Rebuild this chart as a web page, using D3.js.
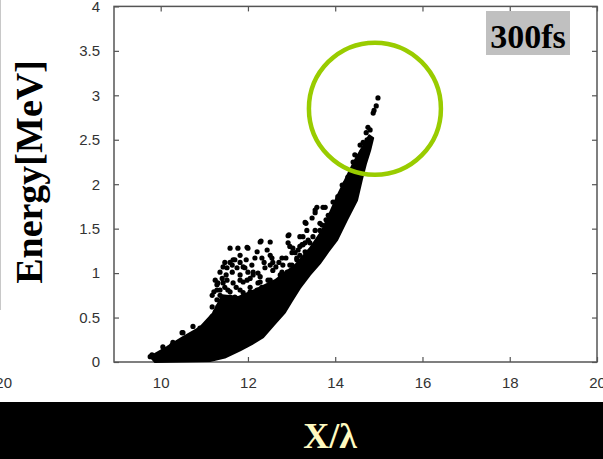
<!DOCTYPE html>
<html><head><meta charset="utf-8">
<script src="https://cdn.jsdelivr.net/npm/d3@7"></script>
<style>html,body{margin:0;padding:0;background:#fff;}svg{display:block;}</style>
</head><body>
<svg id="c" width="603" height="459"></svg>
<script>
// ---- data ----
const xTicks = [10, 12, 14, 16, 18, 20];
const yTicks = [0, 0.5, 1, 1.5, 2, 2.5, 3, 3.5, 4];
const yTickLabels = ["0", "0.5", "1", "1.5", "2", "2.5", "3", "3.5", "4"];
// dense core of particles: outline of the solid black band (x/λ, MeV)
const coreX = [9.87, 11.13, 11.47, 11.82, 12.09, 12.35, 12.60, 12.85, 13.01, 13.19, 13.42, 13.65, 13.84, 14.04, 14.27, 14.50, 14.61, 14.71, 14.80, 14.87,
               14.78, 14.45, 14.23, 14.04, 13.88, 13.70, 13.42, 13.08, 12.62, 12.16, 11.77, 11.41, 11.20, 10.90, 10.51, 10.15, 9.76];
const coreE = [0.00, 0.01, 0.05, 0.13, 0.20, 0.28, 0.42, 0.56, 0.69, 0.83, 0.98, 1.11, 1.24, 1.37, 1.60, 1.82, 2.05, 2.24, 2.38, 2.52,
               2.55, 2.27, 2.05, 1.86, 1.68, 1.48, 1.28, 1.09, 0.92, 0.81, 0.73, 0.75, 0.55, 0.39, 0.28, 0.17, 0.06];
// individual particles outside / at the edge of the core
const ptX = [14.98, 14.94, 14.89, 14.87, 14.75, 14.80, 14.71, 14.73, 14.64, 14.57, 14.61, 14.45, 14.52, 14.41, 14.52, 14.39, 14.29, 14.23, 14.16, 14.18, 14.06,
  13.54, 13.72, 13.95, 13.31, 13.35, 13.65, 13.26, 13.49,
  13.70, 12.92, 13.19, 13.65, 12.28, 12.51, 12.92, 13.24, 13.42, 11.98, 12.21, 13.01, 13.31, 12.51, 12.57, 12.80, 13.12, 12.09, 11.93, 12.23, 12.57, 12.78,
  12.28, 12.46, 12.67, 12.05, 12.39, 11.82, 12.05, 12.28, 11.98,
  11.59, 11.77, 12.00, 12.30, 12.44, 12.55, 12.64, 12.94, 13.33, 13.12, 13.31, 11.47, 11.59, 11.70, 11.43, 11.75, 12.12, 12.28, 11.41, 11.52, 11.66, 11.89,
  12.51, 12.69, 11.36, 11.59, 11.89, 12.21, 12.44, 11.29, 11.52, 11.82, 12.09, 11.18,
  11.66, 11.52, 11.89, 12.12, 13.58, 13.77, 13.54, 13.26, 13.08, 12.96, 12.74, 11.29, 11.98, 12.51, 11.82, 11.59, 10.74, 10.90,
  9.76, 10.28, 10.26, 10.51, 11.18, 11.25, 11.36, 11.31, 11.43, 10.49, 10.05, 9.80,
  11.82, 12.32, 12.78, 12.96, 13.15, 13.54, 13.47, 13.84, 14.04, 11.64, 12.00, 12.39, 12.90, 11.47, 11.73, 12.05, 12.32, 12.55,
  11.41, 11.64, 11.93, 11.70, 11.31, 11.18, 12.85, 13.01, 13.19, 13.38, 13.79,
  11.25, 11.36, 11.50, 11.64, 11.82, 11.96, 12.16, 12.37, 12.51, 12.71, 12.87, 13.03, 13.19, 11.82, 12.05, 12.23, 11.54, 11.29, 11.22];
const ptE = [2.97, 2.88, 2.83, 2.80, 2.64, 2.61, 2.58, 2.50, 2.47, 2.44, 2.36, 2.33, 2.31, 2.25, 2.19, 2.16, 2.08, 2.01, 1.99, 1.90, 1.86,
  1.71, 1.74, 1.80, 1.57, 1.48, 1.56, 1.41, 1.41,
  1.54, 1.42, 1.41, 1.48, 1.35, 1.35, 1.34, 1.32, 1.34, 1.29, 1.24, 1.23, 1.24, 1.20, 1.12, 1.09, 1.17, 1.09, 1.06, 1.00, 1.03, 1.01,
  0.90, 0.92, 0.89, 0.84, 0.81, 0.92, 0.72, 0.70, 0.58,
  1.28, 1.28, 1.28, 1.36, 1.26, 1.17, 1.07, 1.43, 1.56, 1.15, 1.34, 1.12, 1.12, 1.15, 1.07, 1.06, 1.01, 0.96, 0.94, 0.92, 0.89, 0.90,
  0.92, 0.84, 0.81, 0.79, 0.78, 0.81, 0.73, 0.70, 0.70, 0.66, 0.70, 0.62,
  1.15, 1.06, 1.07, 0.98, 1.74, 1.74, 1.68, 1.32, 1.23, 1.09, 0.98, 0.81, 0.92, 0.89, 0.81, 0.73, 0.40, 0.38,
  0.06, 0.22, 0.19, 0.33, 0.51, 0.56, 0.75, 0.62, 0.89, 0.33, 0.17, 0.08,
  1.20, 1.17, 1.17, 1.30, 1.26, 1.48, 1.62, 1.65, 1.71, 1.01, 1.01, 1.06, 1.01, 0.84, 0.84, 0.79, 0.84, 0.79,
  0.62, 0.62, 0.64, 0.73, 0.89, 0.75, 0.92, 1.09, 1.20, 1.37, 1.60,
  0.92, 1.01, 0.98, 1.09, 1.12, 1.15, 1.17, 1.12, 1.09, 1.12, 1.17, 1.28, 1.30, 0.98, 0.94, 0.89, 0.81, 0.87, 0.79];
const xLabel = "X/λ";
const yLabel = "Energy[MeV]";
const timeLabel = "300fs";

// ---- drawing ----
const svg = d3.select("#c");
const L = 114, R = 597, T = 6.4, B = 362;
const x = d3.scaleLinear().domain([8.93, 20]).range([L, R]);
const y = d3.scaleLinear().domain([0, 4]).range([B, T]);

// remnant of neighbouring panel on the left edge
svg.append("line").attr("x1", 0.5).attr("x2", 0.5).attr("y1", 0).attr("y2", 310)
  .attr("stroke", "#c8c8c8").attr("stroke-width", 1);
svg.append("text").attr("x", 12).attr("y", 388).attr("text-anchor", "end")
  .attr("font-family", "Liberation Sans, Arial, sans-serif").attr("font-size", 15).attr("fill", "#333").text("20");

const axFont = "Liberation Sans, Arial, sans-serif";
function styleAxis(g) {
  g.select(".domain").remove();
  g.selectAll(".tick line").attr("stroke", "#555").attr("stroke-width", 1.2);
  g.selectAll(".tick text").attr("font-family", axFont).attr("font-size", 15).attr("fill", "#333");
}
svg.append("g").attr("transform", `translate(0,${B})`)
  .call(d3.axisBottom(x).tickValues(xTicks).tickSizeInner(-5).tickSizeOuter(0).tickPadding(15).tickFormat(d3.format("d")))
  .call(styleAxis);
svg.append("g").attr("transform", `translate(0,${T})`)
  .call(d3.axisTop(x).tickValues(xTicks).tickSizeInner(-5).tickSizeOuter(0).tickFormat(""))
  .call(styleAxis);
svg.append("g").attr("transform", `translate(${L},0)`)
  .call(d3.axisLeft(y).tickValues(yTicks).tickSizeInner(-5).tickSizeOuter(0).tickPadding(14).tickFormat((d, i) => yTickLabels[i]))
  .call(styleAxis);
svg.append("g").attr("transform", `translate(${R},0)`)
  .call(d3.axisRight(y).tickValues(yTicks).tickSizeInner(-5).tickSizeOuter(0).tickFormat(""))
  .call(styleAxis);

// frame
svg.append("rect").attr("x", L).attr("y", T).attr("width", R - L).attr("height", B - T)
  .attr("fill", "none").attr("stroke", "#555").attr("stroke-width", 1.5);

// core band
const core = coreX.map((v, i) => [v, coreE[i]]);
svg.append("path").datum(core)
  .attr("d", d3.line().x(d => x(d[0])).y(d => y(d[1])).curve(d3.curveLinearClosed))
  .attr("fill", "#000").attr("stroke", "#000").attr("stroke-width", 2).attr("stroke-linejoin", "round");

// particles
const pts = ptX.map((v, i) => [v, ptE[i]]);
svg.append("g").selectAll("circle").data(pts).join("circle")
  .attr("cx", d => x(d[0])).attr("cy", d => y(d[1])).attr("r", 2.6).attr("fill", "#000");

// highlight circle around the high-energy tip
svg.append("circle").attr("cx", x(14.91)).attr("cy", y(2.85)).attr("r", 66)
  .attr("fill", "none").attr("stroke", "#99cc00").attr("stroke-width", 4.5);

// time label
svg.append("rect").attr("x", 486).attr("y", 11).attr("width", 84).attr("height", 44).attr("fill", "#c0c0c0");
svg.append("text").attr("x", 528).attr("y", 48).attr("text-anchor", "middle")
  .attr("font-family", "Liberation Serif, Times New Roman, serif").attr("font-weight", "bold")
  .attr("font-size", 34).attr("fill", "#000").text(timeLabel);

// y label
svg.append("text").attr("transform", "translate(42,172) rotate(-90)").attr("text-anchor", "middle")
  .attr("font-family", "Liberation Serif, Times New Roman, serif").attr("font-weight", "bold")
  .attr("font-size", 38).attr("fill", "#000").text(yLabel);

// bottom black band with x label
svg.append("rect").attr("x", 0).attr("y", 402).attr("width", 603).attr("height", 57).attr("fill", "#000");
svg.append("text").attr("x", 330).attr("y", 448).attr("text-anchor", "middle")
  .attr("font-family", "Liberation Serif, Times New Roman, serif").attr("font-weight", "bold")
  .attr("font-size", 36).attr("fill", "#fffac0").text(xLabel);
</script>
</body></html>
